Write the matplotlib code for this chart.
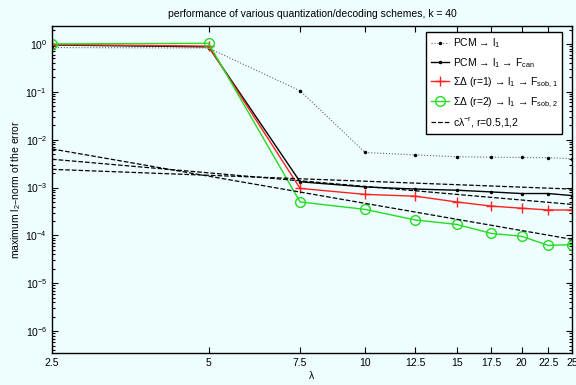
import matplotlib
matplotlib.use('Agg')
import matplotlib.pyplot as plt
from matplotlib.ticker import FixedLocator, FixedFormatter, NullLocator, LogLocator

plt.rcParams['font.family'] = ['Liberation Sans', 'DejaVu Sans']
plt.rcParams['mathtext.default'] = 'regular'

# data
lam = [2.5, 5, 7.5, 10, 12.5, 15, 17.5, 20, 22.5, 25]
xlabels = ['2.5', '5', '7.5', '10', '12.5', '15', '17.5', '20', '22.5', '25']
pcm = [0.84, 0.82, 0.105, 5.4e-3, 4.8e-3, 4.4e-3, 4.3e-3, 4.25e-3, 4.2e-3, 4.0e-3]
pcm_can = [0.95, 0.87, 1.32e-3, 1.03e-3, 9.3e-4, 8.8e-4, 8.1e-4, 7.5e-4, 7.5e-4, 6.8e-4]
sd1 = [0.97, 0.9, 9.6e-4, 7.2e-4, 6.6e-4, 5.0e-4, 4.1e-4, 3.7e-4, 3.4e-4, 3.4e-4]
sd2 = [1.0, 1.03, 5.0e-4, 3.5e-4, 2.1e-4, 1.7e-4, 1.1e-4, 9.6e-5, 6.2e-5, 6.4e-5]
# reference power laws c*lambda^-r, endpoints at lambda = 2.5 and 25
ref_x = [2.5, 25]
ref_r05 = [2.4e-3, 9.3e-4]
ref_r1 = [3.9e-3, 4.45e-4]
ref_r2 = [6.4e-3, 8.3e-5]

bg = '#eefdfd'
fig = plt.figure(figsize=(5.76, 3.85), dpi=100, facecolor=bg)
ax = fig.add_axes([0.0903, 0.0831, 0.9027, 0.8501], facecolor=bg)

fs = 7.5
ax.plot(lam, pcm, ls=':', color='#666666', lw=0.8, marker='.', ms=3, mfc='k', mec='k',
        label='PCM → l$_1$')
ax.plot(lam, pcm_can, ls='-', color='k', lw=1.0, marker='.', ms=3,
        label='PCM → l$_1$ → F$_{can}$')
ax.plot(lam, sd1, ls='-', color='#ff2020', lw=1.0, marker='+', ms=7, mew=1.0,
        label='ΣΔ (r=1) → l$_1$ → F$_{sob,1}$')
ax.plot(lam, sd2, ls='-', color='#22dd22', lw=1.0, marker='o', ms=7, mfc='none', mew=1.0,
        label='ΣΔ (r=2) → l$_1$ → F$_{sob,2}$')
ax.plot(ref_x, ref_r05, ls='--', color='k', lw=0.9, label=r'c$\lambda^{-r}$, r=0.5,1,2')
ax.plot(ref_x, ref_r1, ls='--', color='k', lw=0.9)
ax.plot(ref_x, ref_r2, ls='--', color='k', lw=0.9)

ax.set_xscale('log')
ax.set_yscale('log')
ax.set_xlim(2.5, 25)
ax.set_ylim(3.5e-7, 2.4)
ax.xaxis.set_major_locator(FixedLocator(lam))
ax.xaxis.set_major_formatter(FixedFormatter(xlabels))
ax.xaxis.set_minor_locator(NullLocator())
ax.yaxis.set_major_locator(LogLocator(base=10, numticks=20))
ax.yaxis.set_minor_locator(LogLocator(base=10, subs=range(2, 10), numticks=20))
ax.tick_params(which='both', direction='in', top=True, right=True, labelsize=fs, width=0.8)
ax.tick_params(which='major', length=4)
ax.tick_params(which='minor', length=2)
for s in ax.spines.values():
    s.set_linewidth(1.0)

ax.set_xlabel(r'$\lambda$', fontsize=fs, labelpad=1)
ax.set_ylabel('maximum l$_2$–norm of the error', fontsize=fs, labelpad=2)
ax.set_title('performance of various quantization/decoding schemes, k = 40', fontsize=fs, pad=6)

leg = ax.legend(loc='upper right', bbox_to_anchor=(0.981, 0.982), borderaxespad=0,
                fontsize=fs, frameon=True, fancybox=False, edgecolor='k',
                facecolor='white', framealpha=1, handlelength=1.8, handletextpad=0.3,
                labelspacing=0.55, borderpad=0.45)
leg.get_frame().set_linewidth(1.0)

fig.savefig('out.png', dpi=100, facecolor=bg)
